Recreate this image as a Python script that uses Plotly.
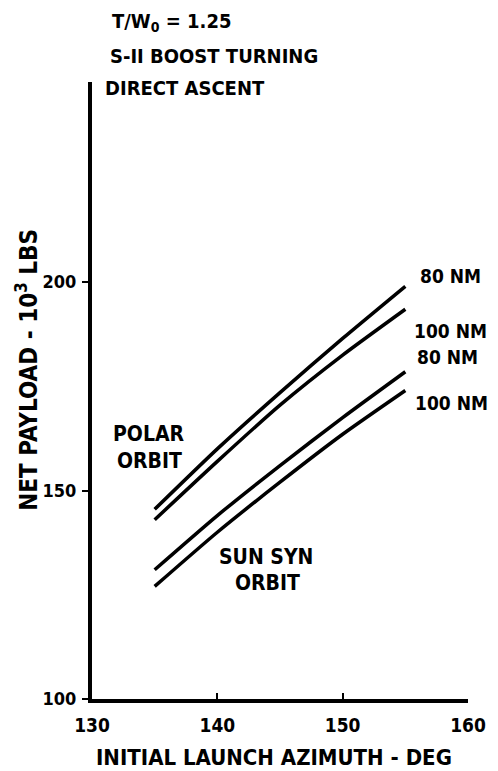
import plotly.graph_objects as go

# Data
azimuth = [135, 140, 145, 150, 155]
polar_80nm = [145.5, 160.0, 173.5, 186.5, 199.0]
polar_100nm = [143.0, 157.0, 170.5, 182.5, 193.5]
sunsyn_80nm = [131.0, 144.0, 156.0, 167.5, 178.5]
sunsyn_100nm = [127.0, 140.0, 152.0, 163.5, 174.0]

x_ticks = [130, 140, 150, 160]
y_ticks = [100, 150, 200]

FONT = "DejaVu Sans Condensed, Liberation Sans Narrow, sans-serif"
WEIGHT = "bold"

# page has an 8px body margin; plot area in page pixels: x 92..478, y 82..699
PX0, PX1, PY0, PY1 = 92, 478, 82, 699

fig = go.Figure()
for name, ys in [("Polar 80 NM", polar_80nm), ("Polar 100 NM", polar_100nm),
                 ("Sun syn 80 NM", sunsyn_80nm), ("Sun syn 100 NM", sunsyn_100nm)]:
    fig.add_trace(go.Scatter(x=azimuth, y=ys, mode="lines", name=name,
                             line=dict(color="black", width=3.5, shape="spline", smoothing=0.6),
                             showlegend=False, hoverinfo="x+y+name"))

ann = []
def label(text, x, y, size=18, xanchor="center", angle=0):
    ann.append(dict(text=text, x=(x - PX0) / (PX1 - PX0), y=(PY1 - y) / (PY1 - PY0),
                    xref="paper", yref="paper", showarrow=False, textangle=angle,
                    xanchor=xanchor, yanchor="middle",
                    font=dict(family=FONT, size=size, color="black", weight=WEIGHT)))

# curve end labels (page pixel centres)
label("80 NM", 460, 276, size=19)
label("100 NM", 460, 331, size=19)
label("80 NM", 457, 357, size=19)
label("100 NM", 461, 403, size=19)
# group labels
label("POLAR", 151, 434, size=21)
label("ORBIT", 151, 461, size=21)
label("SUN SYN", 271, 557, size=21)
label("ORBIT", 272, 583, size=21)
# header text
label("T/W<sub>0</sub> = 1.25", 110, 22, size=20, xanchor="left")
label("S-II BOOST TURNING", 108, 56, size=20, xanchor="left")
label("DIRECT ASCENT", 103, 88, size=20, xanchor="left")
# axis titles
label("NET PAYLOAD - 10<sup>3</sup> LBS", 25, 370, size=24, angle=-90)
label("INITIAL LAUNCH AZIMUTH - DEG", 279, 757, size=22)

W, H = 490, 763
fig.update_layout(
    width=W, height=H,
    margin=dict(l=84, r=20, t=74, b=72),
    paper_bgcolor="white", plot_bgcolor="white",
    annotations=ann,
    font=dict(family=FONT, color="black"),
    xaxis=dict(range=[130, 160], tickvals=x_ticks, ticktext=[str(v) for v in x_ticks],
               showgrid=False, zeroline=False, showline=True, linecolor="black", linewidth=4,
               ticks="inside", ticklen=6, tickwidth=2, tickcolor="black",
               tickfont=dict(family=FONT, size=19, weight=WEIGHT), ticklabelstandoff=6),
    yaxis=dict(range=[100, 248], tickvals=y_ticks, ticktext=[str(v) for v in y_ticks],
               showgrid=False, zeroline=False, showline=True, linecolor="black", linewidth=4,
               ticks="outside", ticklen=6, tickwidth=2, tickcolor="black",
               tickfont=dict(family=FONT, size=18, weight=WEIGHT), ticklabelstandoff=2),
)

fig.write_html("out.html")
